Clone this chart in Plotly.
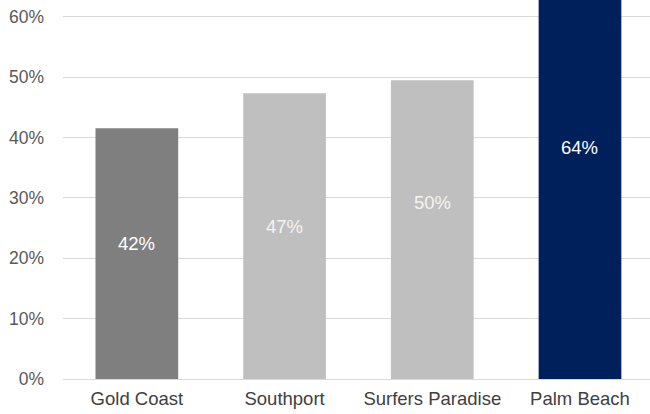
import plotly.graph_objects as go

# Share of respondents by locality
categories = ["Gold Coast", "Southport", "Surfers Paradise", "Palm Beach"]
values = [0.4155, 0.4735, 0.495, 0.64]
label_y = [0.225, 0.252, 0.293, 0.384]
bar_colors = ["#7f7f7f", "#bfbfbf", "#bfbfbf", "#00205b"]
label_colors = ["#ffffff", "#f4f4f4", "#f4f4f4", "#ffffff"]
y_ticks = [0, 0.1, 0.2, 0.3, 0.4, 0.5, 0.6]

font_family = "Liberation Sans, Arial, sans-serif"

fig = go.Figure(
    go.Bar(
        x=categories,
        y=values,
        marker=dict(color=bar_colors, line=dict(width=0)),
        width=0.56,
        hoverinfo="skip",
    )
)

# Value labels inside each bar
for cat, val, ly, col in zip(categories, values, label_y, label_colors):
    fig.add_annotation(
        x=cat, y=ly, text=f"{val:.0%}", showarrow=False,
        font=dict(family=font_family, size=18.5, color=col),
        xanchor="center", yanchor="middle",
    )

fig.update_layout(
    width=650, height=414,
    margin=dict(l=63, r=0, t=0, b=35),
    paper_bgcolor="white", plot_bgcolor="white",
    showlegend=False,
    font=dict(family=font_family, size=18, color="#595959"),
    xaxis=dict(
        range=[-0.5, 3.474], showgrid=False, showline=False, zeroline=False,
        ticks="", tickfont=dict(size=18.5, color="#404040"), ticklabelstandoff=6,
        fixedrange=True,
    ),
    yaxis=dict(
        range=[0, 0.628], tickvals=y_ticks, tickformat=".0%",
        showgrid=True, gridcolor="#d9d9d9", gridwidth=1.3,
        zeroline=True, zerolinecolor="#d9d9d9", zerolinewidth=1.3,
        showline=False, ticks="", ticklabelstandoff=18,
        tickfont=dict(size=17.5, color="#595959"), fixedrange=True,
    ),
    bargap=0.44,
)

fig.write_html("out.html")
